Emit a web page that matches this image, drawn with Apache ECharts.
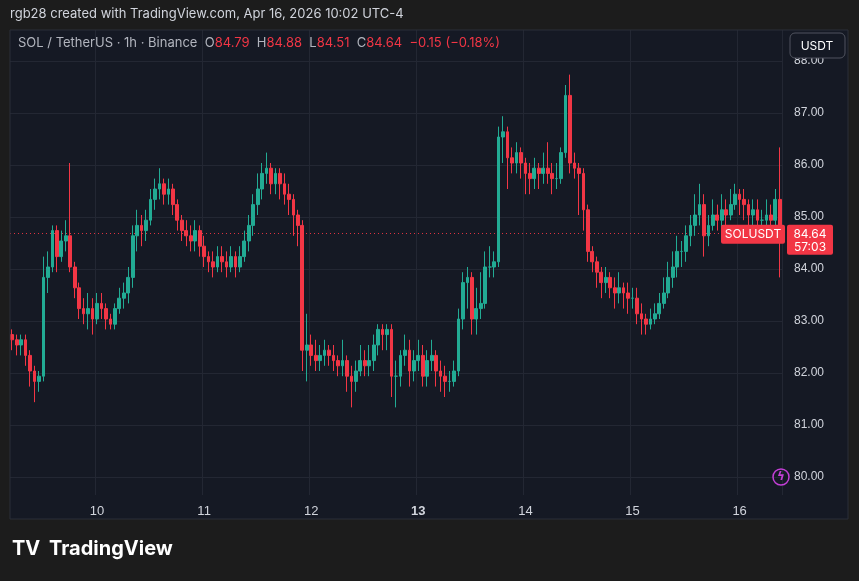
<!DOCTYPE html>
<html>
<head>
<meta charset="utf-8">
<script src="https://cdn.jsdelivr.net/npm/echarts@6/dist/echarts.min.js"></script>
<style>
  html,body{margin:0;padding:0;background:#1c1c1c;}
  #main{width:859px;height:581px;}
</style>
</head>
<body>
<div id="main"></div>
<script>
// SOL / TetherUS 1h candles (open of each = previous close)
const firstOpen = 82.7;
const closes = [
  82.6,82.5,82.6,82.3,82.0,81.8,81.9,83.8,84.0,84.7,
  84.2,84.5,84.6,84.0,83.6,83.2,83.1,83.2,83.0,83.3,
  83.2,83.0,82.9,83.2,83.4,83.5,83.8,84.6,84.8,84.7,
  84.9,85.3,85.5,85.6,85.4,85.5,85.2,84.9,84.7,84.6,
  84.5,84.7,84.4,84.2,84.1,84.0,84.2,84.1,84.0,84.2,
  84.0,84.2,84.5,84.8,85.2,85.5,85.8,85.9,85.6,85.8,
  85.6,85.4,85.3,85.0,84.8,82.4,82.5,82.3,82.2,82.3,
  82.4,82.3,82.2,82.1,82.2,81.9,81.8,82.0,82.2,82.1,
  82.2,82.5,82.8,82.7,82.8,81.9,81.9,82.3,82.4,82.0,
  82.2,82.3,81.9,82.2,82.3,82.0,81.9,81.8,81.8,82.0,
  83.0,83.7,83.8,83.0,83.2,83.3,84.0,84.0,84.1,86.5,
  86.6,86.1,86.0,86.2,86.0,85.8,85.7,85.9,85.8,85.9,
  85.8,85.7,85.7,86.2,87.3,86.0,85.9,85.8,85.1,84.3,
  84.1,83.9,83.7,83.8,83.6,83.5,83.6,83.5,83.4,83.4,
  83.1,83.0,82.9,83.0,83.1,83.3,83.5,83.8,84.0,84.3,
  84.3,84.6,84.8,85.0,85.2,84.6,84.8,85.0,84.9,85.1,
  85.0,85.2,85.4,85.3,85.2,85.0,85.1,84.9,84.9,85.0,
  84.9,85.3,84.64
];
const highs = [
  82.8,82.7,82.7,82.7,82.4,82.1,82.0,84.2,84.3,84.8,
  84.8,84.7,84.9,86.0,84.1,83.7,83.4,83.5,83.4,83.5,
  83.5,83.3,83.1,83.3,83.6,83.7,84.0,84.8,85.1,85.0,
  85.1,85.5,85.7,85.9,85.7,85.7,85.6,85.3,85.0,84.9,
  84.8,84.9,84.8,84.6,84.3,84.3,84.4,84.4,84.3,84.4,
  84.3,84.4,84.7,85.0,85.4,85.8,86.0,86.2,86.0,85.9,
  85.9,85.8,85.6,85.4,85.1,84.9,83.1,82.7,82.6,82.5,
  82.6,82.5,82.5,82.3,82.6,82.3,82.1,82.2,82.5,82.4,
  82.5,82.7,82.9,82.9,82.9,82.9,82.2,82.4,82.7,82.6,
  82.4,82.6,82.5,82.4,82.6,82.4,82.2,82.1,82.0,82.2,
  83.2,83.9,84.0,83.9,83.6,83.9,84.3,84.4,84.3,86.7,
  86.9,86.7,86.3,86.4,86.3,86.1,86.0,86.1,86.0,86.2,
  86.4,86.0,86.0,86.3,87.5,87.7,86.2,86.0,85.9,85.2,
  84.4,84.2,84.0,84.0,83.9,83.8,83.9,83.7,83.7,83.6,
  83.6,83.3,83.1,83.2,83.3,83.5,83.8,84.1,84.3,84.6,
  84.5,84.8,85.0,85.4,85.6,85.4,85.0,85.3,85.2,85.4,
  85.3,85.5,85.6,85.5,85.5,85.3,85.3,85.3,85.1,85.3,
  85.2,85.5,86.3
];
const lows = [
  82.4,82.3,82.3,82.1,81.7,81.4,81.6,81.8,83.5,83.9,
  83.9,84.1,84.3,83.9,83.4,83.0,82.9,82.8,82.7,82.9,
  83.0,82.8,82.8,82.8,83.1,83.2,83.3,83.6,84.3,84.4,
  84.5,84.8,85.1,85.3,85.2,85.2,85.0,84.7,84.5,84.4,
  84.3,84.3,84.2,84.0,83.9,83.8,83.9,83.9,83.8,83.9,
  83.8,83.9,84.1,84.3,84.6,85.0,85.3,85.6,85.4,85.4,
  85.3,85.2,85.0,84.6,84.4,82.0,81.8,82.1,82.0,82.0,
  82.1,82.1,82.0,81.9,81.9,81.6,81.3,81.6,81.9,81.9,
  81.9,82.0,82.3,82.4,82.4,81.5,81.3,81.7,82.1,81.7,
  81.8,82.0,81.7,81.7,82.0,81.7,81.6,81.5,81.6,81.7,
  81.9,82.8,83.2,82.7,82.7,83.0,83.2,83.8,83.8,84.0,
  86.0,85.5,85.8,85.8,85.7,85.4,85.4,85.5,85.5,85.6,
  85.6,85.4,85.5,85.6,86.1,85.8,85.7,85.0,84.7,84.1,
  83.9,83.6,83.4,83.5,83.4,83.2,83.3,83.2,83.1,83.2,
  82.9,82.7,82.7,82.8,82.9,83.0,83.2,83.4,83.6,83.8,
  84.0,84.1,84.4,84.6,84.8,84.2,84.4,84.7,84.7,84.7,
  84.8,84.9,85.1,85.0,84.9,84.7,84.8,84.7,84.6,84.6,
  84.6,84.8,83.8
];
const priceTicks = [80, 81, 82, 83, 84, 85, 86, 87, 88];
const firstDay = 9, firstHour = 5; // first candle: Apr 9, 05:00
const lastPrice = 84.64;

const UP = '#22ab94', DOWN = '#f23645';

let cats = [];
let ohlc = [];
for (let i = 0; i < closes.length; i++) {
  let h = firstHour + i;
  let d = firstDay + Math.floor(h / 24);
  cats.push(d + ' ' + (h % 24));
  let o = i == 0 ? firstOpen : closes[i - 1];
  ohlc.push([o, closes[i], lows[i], highs[i]]);
}
const isMidnight = (idx) => cats[idx] && cats[idx].split(' ')[1] === '0';

const chart = echarts.init(document.getElementById('main'));
const option = {
  backgroundColor: '#1c1c1c',
  animation: false,
  grid: [
    {left: 10, right: 77, top: 30, bottom: 86},
    {left: 10, right: 77, top: 9, bottom: 52}
  ],
  xAxis: [
    {
      type: 'category', data: cats, gridIndex: 0,
      boundaryGap: true,
      axisLine: {show: false}, axisTick: {show: false},
      splitLine: {show: true, interval: (i) => isMidnight(i), lineStyle: {color: '#232733', width: 1}},
      axisLabel: {
        interval: (i) => isMidnight(i),
        color: '#d1d4dc', fontSize: 13, margin: 10,
        formatter: (v) => {
          let d = v.split(' ')[0];
          return d === '13' ? '{b|' + d + '}' : d;
        },
        rich: {b: {fontWeight: 'bold', color: '#d1d4dc', fontSize: 13}}
      }
    },
    {type: 'value', gridIndex: 1, show: false, min: 0, max: 1}
  ],
  yAxis: [
    {type: 'value', gridIndex: 0, min: 79.615, max: 88.558, show: false},
    {
      type: 'value', gridIndex: 1, min: 79, max: 89, interval: 1, position: 'right',
      axisLine: {show: false}, axisTick: {show: false},
      splitLine: {lineStyle: {color: '#232733'}},
      axisLabel: {
        color: '#d1d4dc', fontSize: 12, margin: 12,
        formatter: (v) => priceTicks.indexOf(v) >= 0 ? v.toFixed(2) : ''
      }
    }
  ],
  series: [
    {
      type: 'candlestick', xAxisIndex: 0, yAxisIndex: 0, data: ohlc,
      barWidth: 3.2,
      itemStyle: {color: UP, color0: DOWN, borderColor: UP, borderColor0: DOWN, borderWidth: 1},
      markLine: {
        symbol: 'none', silent: true, label: {show: false},
        lineStyle: {color: DOWN, type: [1, 3], width: 1, opacity: 0.9},
        data: [{yAxis: lastPrice}]
      },
      z: 5
    }
  ]
};
chart.setOption(option);

const yLast = chart.convertToPixel({xAxisIndex: 0, yAxisIndex: 0}, [0, lastPrice])[1];
chart.setOption({
  graphic: [
    // panel background behind everything
    {type: 'rect', shape: {x: 10, y: 30, width: 838, height: 489}, style: {fill: '#151924'}, z: -10, silent: true},
    // cover strips outside the chart panel
    {type: 'rect', shape: {x: 0, y: 0, width: 859, height: 30}, style: {fill: '#1c1c1c'}, z: 50},
    {type: 'rect', shape: {x: 0, y: 519, width: 859, height: 62}, style: {fill: '#1c1c1c'}, z: 50},
    {type: 'rect', shape: {x: 10, y: 30, width: 838, height: 489}, style: {fill: 'none', stroke: '#2a2e39', lineWidth: 1}, z: 51},
    {type: 'text', x: 10, y: 8, style: {text: 'rgb28 created with TradingView.com, Apr 16, 2026 10:02 UTC-4', fill: '#d1d4dc', font: '13px Inter, sans-serif'}, z: 60},
    {type: 'text', x: 18, y: 37, style: {
      rich: {
        g: {fill: '#b2b5be', font: '13px Inter, sans-serif'},
        r: {fill: DOWN, font: '13px Inter, sans-serif'}
      },
      text: '{g|SOL / TetherUS · 1h · Binance  O}{r|84.79}{g|  H}{r|84.88}{g|  L}{r|84.51}{g|  C}{r|84.64  −0.15 (−0.18%)}'
    }, z: 60},
    {type: 'rect', shape: {x: 790, y: 33, width: 55, height: 25, r: 5}, style: {fill: '#151924', stroke: '#50535e'}, z: 60},
    {type: 'text', x: 817, y: 46, style: {text: 'USDT', fill: '#ffffff', font: '12px Inter, sans-serif', align: 'center', verticalAlign: 'middle'}, z: 61},
    // last price labels
    {type: 'rect', shape: {x: 721, y: yLast - 9, width: 64, height: 19, r: 2}, style: {fill: DOWN}, z: 40},
    {type: 'text', x: 753, y: yLast + 1, style: {text: 'SOLUSDT', fill: '#ffffff', font: '12px Inter, sans-serif', align: 'center', verticalAlign: 'middle'}, z: 41},
    {type: 'rect', shape: {x: 787, y: yLast - 9, width: 46, height: 30, r: 2}, style: {fill: DOWN}, z: 40},
    {type: 'text', x: 810, y: yLast + 1, style: {text: '84.64', fill: '#ffffff', font: '12px Inter, sans-serif', align: 'center', verticalAlign: 'middle'}, z: 41},
    {type: 'text', x: 810, y: yLast + 14, style: {text: '57:03', fill: '#ffffff', font: '12px Inter, sans-serif', align: 'center', verticalAlign: 'middle'}, z: 41},
    {type: 'circle', shape: {cx: 781, cy: 477, r: 8}, style: {fill: 'none', stroke: '#c33fd6', lineWidth: 1.5}, z: 40},
    {type: 'text', x: 781, y: 477, style: {text: 'ϟ', fill: '#c33fd6', font: 'bold 12px DejaVu Sans', align: 'center', verticalAlign: 'middle'}, z: 41},
    {type: 'text', x: 12, y: 539, style: {text: 'TV', fill: '#ffffff', font: 'bold 20px Inter, sans-serif'}, z: 60},
    {type: 'text', x: 49, y: 539, style: {text: 'TradingView', fill: '#ffffff', font: 'bold 20px Inter, sans-serif'}, z: 60}
  ]
});
</script>
</body>
</html>
